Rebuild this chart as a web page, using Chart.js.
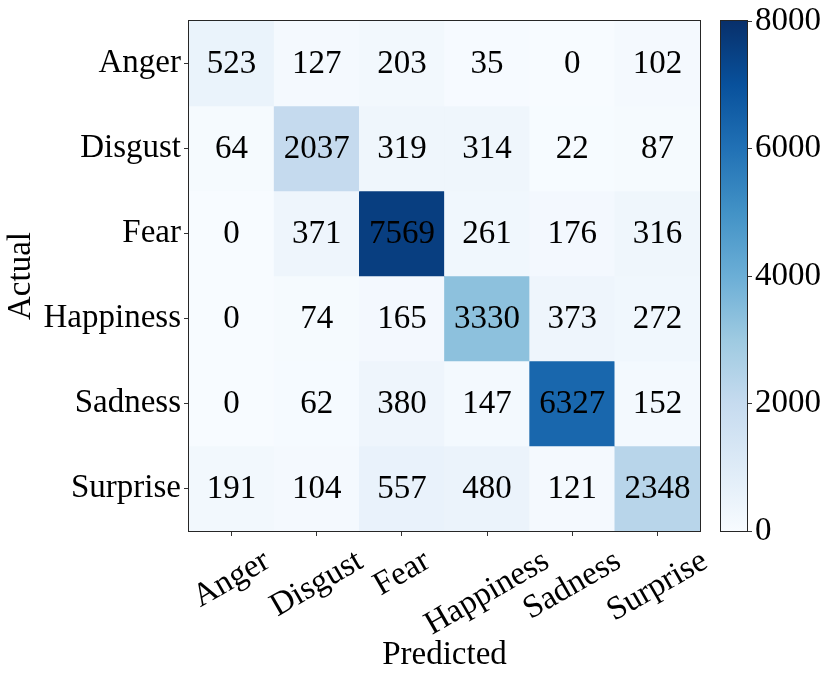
<!DOCTYPE html>
<html>
<head>
<meta charset="utf-8">
<title>Confusion matrix</title>
<script src="https://cdn.jsdelivr.net/npm/chart.js@4.4.0/dist/chart.umd.min.js"></script>
<style>
    body { margin: 0; background: #fff; }
    #wrap { position: relative; width: 830px; height: 678px; }
    #matrix { position: absolute; left: 0; top: 0; }
    #colorbar { position: absolute; left: 700px; top: 0; }
</style>
</head>
<body>
<div id="wrap">
    <canvas id="matrix" width="830" height="678"></canvas>
    <canvas id="colorbar" width="130" height="678"></canvas>
</div>
<script>
// --- Data ---
const actualLabels = ['Anger', 'Disgust', 'Fear', 'Happiness', 'Sadness', 'Surprise'];
const predictedLabels = ['Anger', 'Disgust', 'Fear', 'Happiness', 'Sadness', 'Surprise'];
const rowAnger = [523, 127, 203, 35, 0, 102];
const rowDisgust = [64, 2037, 319, 314, 22, 87];
const rowFear = [0, 371, 7569, 261, 176, 316];
const rowHappiness = [0, 74, 165, 3330, 373, 272];
const rowSadness = [0, 62, 380, 147, 6327, 152];
const rowSurprise = [191, 104, 557, 480, 121, 2348];
const colorbarTicks = [0, 2000, 4000, 6000, 8000];
const colorMin = 0;
const colorMax = 8000;

const matrixRows = [rowAnger, rowDisgust, rowFear, rowHappiness, rowSadness, rowSurprise];

// --- Helpers ---
const FONT_FAMILY = "'Liberation Serif', 'DejaVu Serif', serif";
const FONT_SIZE = 33;

// matplotlib "Blues"
const bluesStops = [
    [247, 251, 255], [222, 235, 247], [198, 219, 239], [158, 202, 225], [107, 174, 214],
    [66, 146, 198], [33, 113, 181], [8, 81, 156], [8, 48, 107]
];

function blues(t) {
    t = Math.min(1, Math.max(0, t));
    const pos = t * (bluesStops.length - 1);
    const i = Math.min(bluesStops.length - 2, Math.floor(pos));
    const f = pos - i;
    const a = bluesStops[i], b = bluesStops[i + 1];
    const c = a.map((v, k) => Math.round(v + (b[k] - v) * f));
    return `rgb(${c[0]}, ${c[1]}, ${c[2]})`;
}

const valueColor = (v) => blues((v - colorMin) / (colorMax - colorMin));

// --- Plugins ---
const frameBox = {
    id: 'frameBox',
    afterDraw(chart) {
        const { ctx, chartArea: a } = chart;
        ctx.save();
        ctx.strokeStyle = '#262626';
        ctx.lineWidth = 1;
        ctx.strokeRect(Math.round(a.left) - 0.5, Math.round(a.top) - 0.5,
            Math.round(a.right - a.left) + 1, Math.round(a.bottom - a.top) + 1);
        ctx.restore();
    }
};

const cellText = {
    id: 'cellText',
    afterDatasetsDraw(chart) {
        const { ctx } = chart;
        ctx.save();
        ctx.font = `${FONT_SIZE}px ${FONT_FAMILY}`;
        ctx.fillStyle = '#000';
        ctx.textAlign = 'center';
        ctx.textBaseline = 'middle';
        chart.data.datasets.forEach((ds, r) => {
            chart.getDatasetMeta(r).data.forEach((bar, c) => {
                const p = bar.getCenterPoint();
                ctx.fillText(String(matrixRows[r][c]), p.x, p.y + 1);
            });
        });
        ctx.restore();
    }
};

// x tick labels rotated 30deg and centred on the tick, like matplotlib
const rotatedXLabels = {
    id: 'rotatedXLabels',
    afterDraw(chart) {
        const { ctx } = chart;
        const xs = chart.scales.x;
        const ang = 30 * Math.PI / 180;
        ctx.save();
        ctx.font = `${FONT_SIZE}px ${FONT_FAMILY}`;
        ctx.fillStyle = '#000';
        ctx.textAlign = 'center';
        ctx.textBaseline = 'middle';
        predictedLabels.forEach((lab, i) => {
            const x = xs.getPixelForValue(i);
            const w = ctx.measureText(lab).width;
            const h = FONT_SIZE * 0.9;
            const boxH = w * Math.sin(ang) + h * Math.cos(ang);
            const cy = xs.top + 15 + boxH / 2;
            ctx.save();
            ctx.translate(x, cy);
            ctx.rotate(-ang);
            ctx.fillText(lab, 0, 0);
            ctx.restore();
        });
        ctx.restore();
    }
};

Chart.defaults.font.family = FONT_FAMILY;
Chart.defaults.color = '#000';

// --- Matrix chart ---
const matrixDatasets = matrixRows.map((row, r) => ({
    label: actualLabels[r],
    data: predictedLabels.map(() => [r, r + 1]),
    backgroundColor: row.map(valueColor),
    borderWidth: 0,
    categoryPercentage: 1,
    barPercentage: 1,
    grouped: false,
}));

new Chart(document.getElementById('matrix'), {
    type: 'bar',
    data: { labels: predictedLabels, datasets: matrixDatasets },
    plugins: [cellText, rotatedXLabels, frameBox],
    options: {
        responsive: false,
        animation: false,
        events: [],
        layout: { padding: { left: 0, top: 21, right: 130, bottom: 0 } },
        plugins: { legend: { display: false }, tooltip: { enabled: false } },
        scales: {
            x: {
                type: 'category',
                offset: true,
                grid: { display: true, offset: false, drawOnChartArea: false, drawTicks: true, tickLength: 5, color: '#333' },
                border: { display: false },
                ticks: { display: false },
                title: {
                    display: true, text: 'Predicted',
                    font: { size: FONT_SIZE }, color: '#000',
                    padding: { top: 0, bottom: 3 }
                },
                afterFit(scale) {
                    scale.height = 147;
                    scale.paddingLeft = 0;
                    scale.paddingRight = 0;
                }
            },
            y: {
                type: 'linear',
                min: 0,
                max: 6,
                reverse: true,
                afterBuildTicks(scale) {
                    scale.ticks = actualLabels.map((_, i) => ({ value: i + 0.5 }));
                },
                grid: { display: true, drawOnChartArea: false, drawTicks: true, tickLength: 5, color: '#333' },
                border: { display: false },
                ticks: {
                    font: { size: FONT_SIZE },
                    color: '#000',
                    padding: 3,
                    autoSkip: false,
                    callback: (v) => actualLabels[Math.floor(v)]
                },
                title: {
                    display: true, text: 'Actual',
                    font: { size: FONT_SIZE }, color: '#000',
                    padding: { top: 2, bottom: 0 }
                },
                afterFit(scale) {
                    scale.width = 189;
                    scale.paddingTop = 0;
                    scale.paddingBottom = 0;
                }
            }
        }
    }
});

// --- Colorbar chart ---
new Chart(document.getElementById('colorbar'), {
    type: 'bar',
    data: {
        labels: ['colorbar'],
        datasets: [{
            data: [[colorMin, colorMax]],
            borderWidth: 0,
            categoryPercentage: 1,
            barPercentage: 1,
            backgroundColor(context) {
                const a = context.chart.chartArea;
                if (!a) return null;
                const g = context.chart.ctx.createLinearGradient(0, a.bottom, 0, a.top);
                bluesStops.forEach((_, i) => {
                    const t = i / (bluesStops.length - 1);
                    g.addColorStop(t, blues(t));
                });
                return g;
            }
        }]
    },
    plugins: [frameBox],
    options: {
        responsive: false,
        animation: false,
        events: [],
        layout: { padding: { left: 21, top: 21, right: 0, bottom: 147 } },
        plugins: { legend: { display: false }, tooltip: { enabled: false } },
        scales: {
            x: { display: false },
            y: {
                type: 'linear',
                position: 'right',
                min: colorMin,
                max: colorMax,
                afterBuildTicks(scale) {
                    scale.ticks = colorbarTicks.map(v => ({ value: v }));
                },
                grid: { display: true, drawOnChartArea: false, drawTicks: true, tickLength: 5, color: '#333' },
                border: { display: false },
                ticks: {
                    font: { size: FONT_SIZE },
                    color: '#000',
                    padding: 3,
                    callback: (v) => String(v)
                },
                afterFit(scale) {
                    scale.width = 83;
                    scale.paddingTop = 0;
                    scale.paddingBottom = 0;
                }
            }
        }
    }
});
</script>
</body>
</html>
